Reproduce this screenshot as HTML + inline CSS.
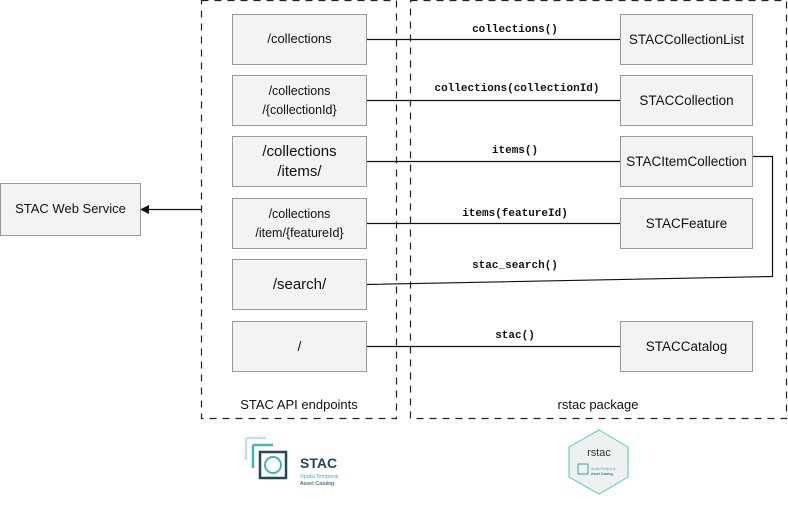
<!DOCTYPE html>
<html><head><style>
body{margin:0;width:788px;height:506px;background:#fff;position:relative;overflow:hidden;font-family:"Liberation Sans",sans-serif}
.b{position:absolute;background:#f3f3f3;border:1.3px solid #999;box-sizing:border-box;display:flex;align-items:center;justify-content:center;text-align:center;color:#111;line-height:1.45}
.m{position:absolute;font-family:"Liberation Mono",monospace;font-weight:bold;font-size:11px;color:#111;transform:translateX(-50%);white-space:nowrap}
.t{position:absolute;font-size:13px;color:#111;transform:translateX(-50%)}
</style></head><body>
<svg width="788" height="506" style="position:absolute;left:0;top:0">
<g fill="none" stroke="#222" stroke-width="1.2" stroke-dasharray="7,6">
<rect x="201.5" y="0.5" width="195" height="418"/>
<rect x="410.5" y="0.5" width="376" height="418"/>
</g>
<g stroke="#111" stroke-width="1.2" fill="none">
<line x1="366" y1="39.5" x2="620" y2="39.5"/>
<line x1="366" y1="100.5" x2="620" y2="100.5"/>
<line x1="366" y1="161.5" x2="620" y2="161.5"/>
<line x1="366" y1="223.5" x2="620" y2="223.5"/>
<polyline points="366,284.5 772.5,276.5 772.5,156.5 752,156.5"/>
<line x1="366" y1="346.5" x2="620" y2="346.5"/>
<line x1="201" y1="209.5" x2="148" y2="209.5"/>
</g>
<polygon points="140,209.5 149,205 149,214" fill="#111"/>
<g transform="translate(246,438)">
<path d="M0,0 H20 M0,0 V22" stroke="#bfe3ec" stroke-width="2.5" fill="none"/>
<path d="M7,7 H27 M7,7 V30" stroke="#3fb8b0" stroke-width="2.5" fill="none"/>
<path d="M14,14 H40 V40 H14 Z" stroke="#24475a" stroke-width="2.5" fill="none"/>
<circle cx="27" cy="27" r="8" stroke="#3fb8b0" stroke-width="2" fill="none"/>
</g>
<text x="300" y="468" font-family="Liberation Sans" font-weight="bold" font-size="14" fill="#24475a">STAC</text>
<text x="300" y="478" font-family="Liberation Sans" font-size="5.5" fill="#3fb8b0">SpatioTemporal</text>
<text x="300" y="485" font-family="Liberation Sans" font-size="5.5" fill="#24475a">Asset Catalog</text>
<polygon points="599,430 628,447 628,477 599,494 569,477 569,447" fill="#eef1f1" stroke="#4ccbb8" stroke-width="1"/>
<text x="599" y="456" text-anchor="middle" font-family="Liberation Sans" font-size="11" fill="#333">rstac</text>
<rect x="578" y="464" width="10" height="10" fill="none" stroke="#3fa0a0" stroke-width="1"/>
<text x="591" y="470" font-family="Liberation Sans" font-size="3.5" fill="#3fb8b0">SpatioTemporal</text>
<text x="591" y="475" font-family="Liberation Sans" font-size="3.5" fill="#24475a">Asset Catalog</text>
</svg>
<div class="b" style="left:0;top:183px;width:141px;height:53px;font-size:13px">STAC Web Service</div>
<div class="b" style="left:232px;top:14px;width:135px;height:51px;font-size:13px">/collections</div>
<div class="b" style="left:232px;top:75px;width:135px;height:51px;font-size:12.5px">/collections<br>/{collectionId}</div>
<div class="b" style="left:232px;top:136px;width:135px;height:51px;font-size:15px;line-height:1.3">/collections<br>/items/</div>
<div class="b" style="left:232px;top:198px;width:135px;height:51px;font-size:12.5px">/collections<br>/item/{featureId}</div>
<div class="b" style="left:232px;top:259px;width:135px;height:51px;font-size:15px">/search/</div>
<div class="b" style="left:232px;top:321px;width:135px;height:51px;font-size:14px">/</div>
<div class="b" style="left:620px;top:14px;width:133px;height:51px;font-size:13.5px">STACCollectionList</div>
<div class="b" style="left:620px;top:75px;width:133px;height:51px;font-size:13.5px">STACCollection</div>
<div class="b" style="left:620px;top:136px;width:133px;height:51px;font-size:13.5px">STACItemCollection</div>
<div class="b" style="left:620px;top:198px;width:133px;height:51px;font-size:13.5px">STACFeature</div>
<div class="b" style="left:620px;top:321px;width:133px;height:51px;font-size:13.5px">STACCatalog</div>
<div class="m" style="left:515px;top:24px">collections()</div>
<div class="m" style="left:517px;top:83px">collections(collectionId)</div>
<div class="m" style="left:515px;top:145px">items()</div>
<div class="m" style="left:515px;top:208px">items(featureId)</div>
<div class="m" style="left:515px;top:260px">stac_search()</div>
<div class="m" style="left:515px;top:330px">stac()</div>
<div class="t" style="left:299px;top:397px">STAC API endpoints</div>
<div class="t" style="left:598px;top:397px">rstac package</div>
</body></html>
